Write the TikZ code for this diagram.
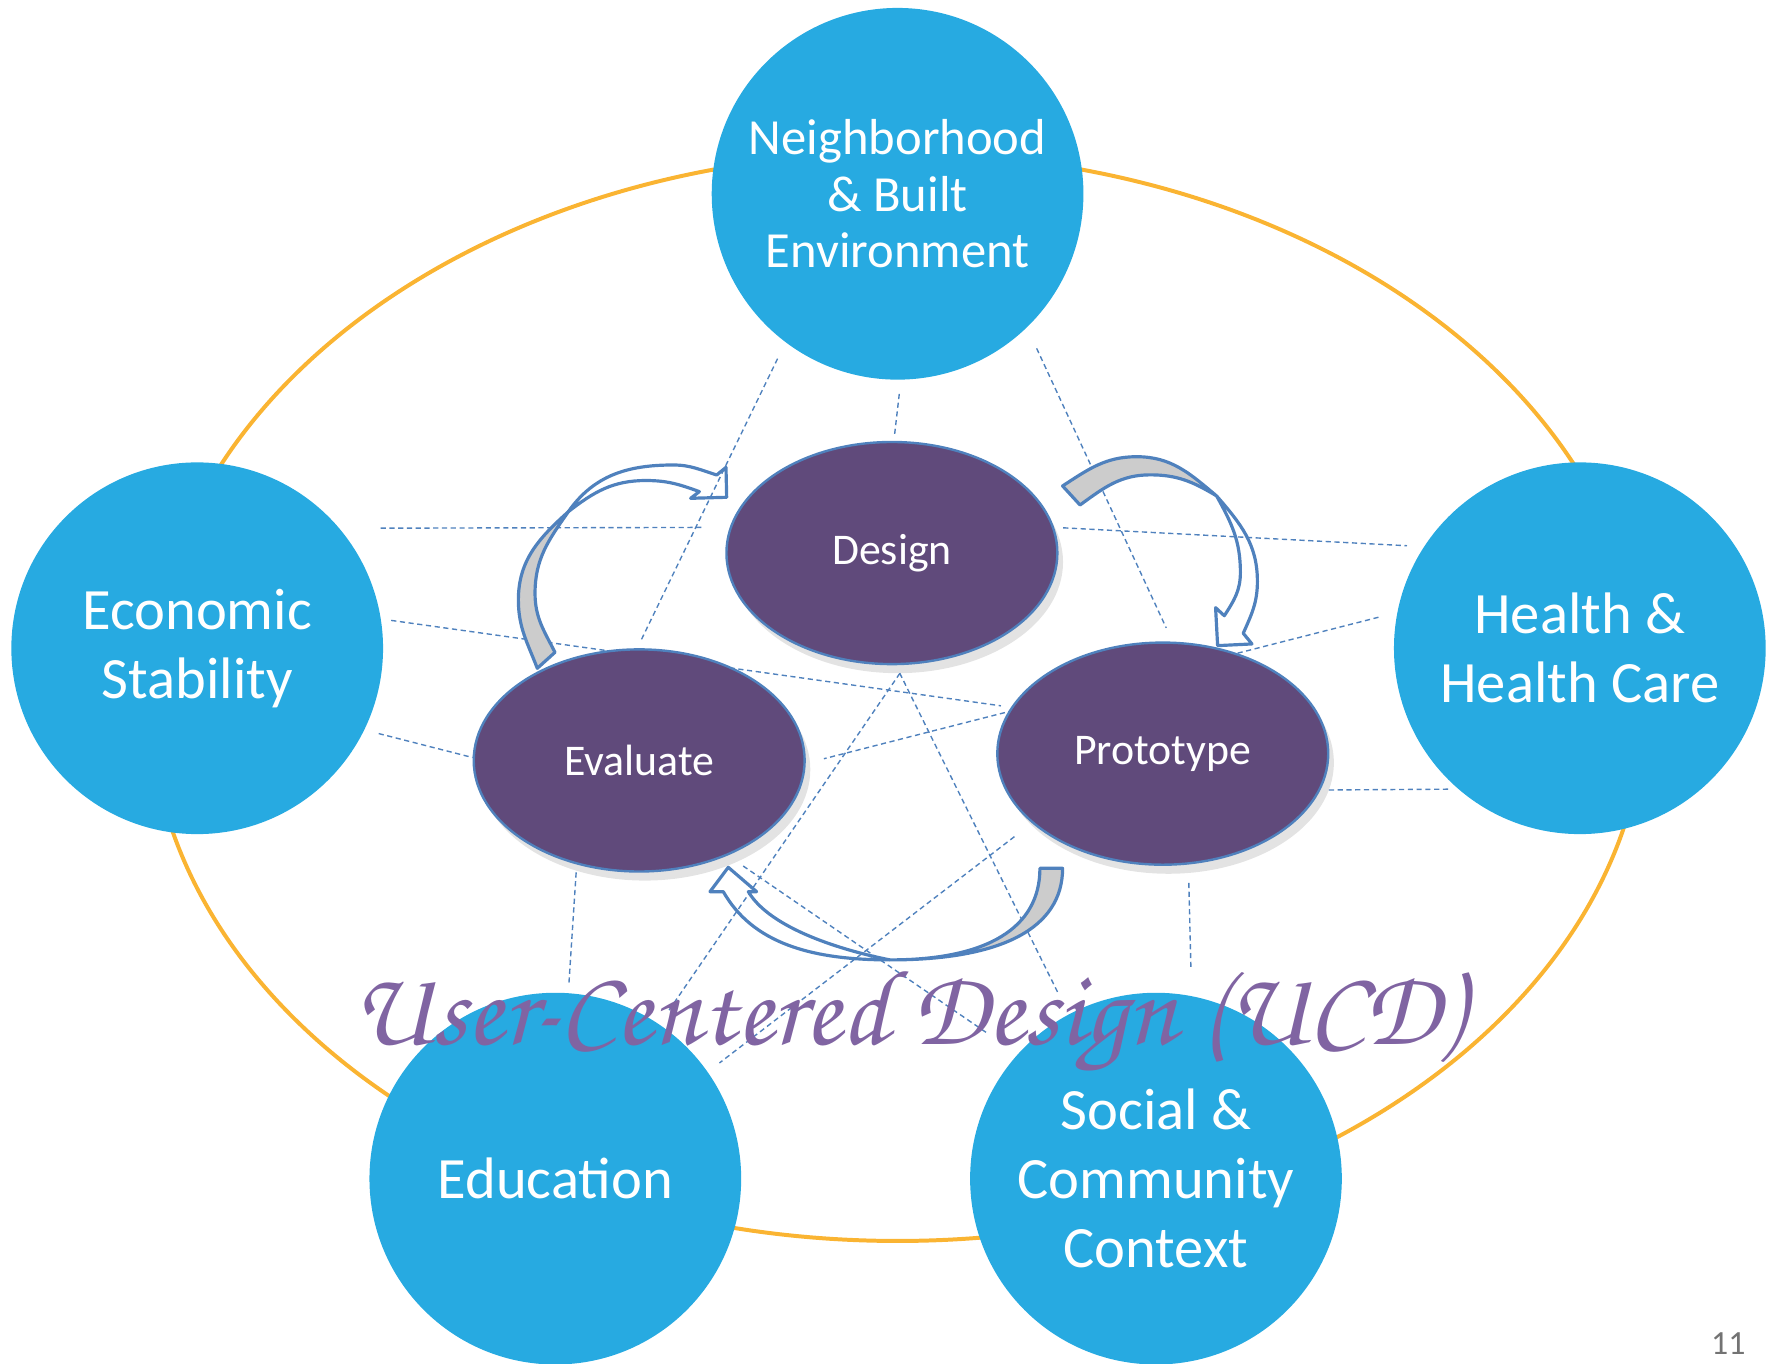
\documentclass[tikz,border=0pt]{standalone}
\usepackage{fontspec}
\setmainfont{Carlito}
\newfontfamily\ucdfont{texgyrechorus-mediumitalic.otf}
\usepackage{tikz}
\usetikzlibrary{shapes.geometric,shadows,backgrounds}

\definecolor{hubblue}{RGB}{39,170,225}
\definecolor{ringgold}{RGB}{250,180,50}
\definecolor{phaseplum}{RGB}{96,74,123}
\definecolor{edgeblue}{RGB}{79,129,189}
\definecolor{titleplum}{RGB}{128,100,162}
\definecolor{backgray}{RGB}{204,204,204}

\tikzset{
  hub/.style={circle, fill=hubblue, minimum size=3.28cm, inner sep=0pt,
    align=center, text=white, font=\fontsize{14.7}{17.3}\selectfont},
  phase/.style={ellipse, fill=phaseplum, draw=edgeblue, line width=0.6pt,
    minimum width=2.92cm, minimum height=1.96cm, inner sep=0pt, text=white,
    font=\fontsize{11}{13}\selectfont,
    drop shadow={shadow xshift=0.5mm, shadow yshift=-0.8mm, opacity=0.22}},
  link/.style={draw=edgeblue, line width=0.35pt, dash pattern=on 1.3pt off 0.9pt},
  turn/.style={draw=edgeblue, line width=0.8pt, line join=round},
  backface/.style={turn, fill=backgray}
}

\begin{document}
\begin{tikzpicture}
  \useasboundingbox (0,0) rectangle (15.68,-12.027);

  % the five determinants
  \node[hub, font=\fontsize{12.7}{14.2}\selectfont] (neigh) at (7.92,-1.71) {Neighborhood\\ \& Built\\ Environment};
  \node[hub] (econ) at (1.74,-5.72) {Economic\\ Stability};
  \node[hub] (health) at (13.94,-5.72) {Health \&\\ Health Care};
  \node[hub] (edu) at (4.90,-10.40) {Education};
  \node[hub] (social) at (10.20,-10.40) {Social \&\\ Community\\ Context};

  % the design cycle
  \node[phase] (design) at (7.87,-4.88) {Design};
  \node[phase] (evaluate) at (5.64,-6.71) {Evaluate};
  \node[phase] (proto) at (10.26,-6.65) {Prototype};

  \begin{scope}[on background layer]
    \draw [ringgold, line width=1pt] (7.92,-6.15) ellipse [x radius=6.60, y radius=4.80];
    \foreach \a/\b/\s/\t in {neigh.233.7/evaluate.91.5/1.55/0.8, neigh.271.8/design.89.3/1.2/0.5,
        neigh.314.5/proto.85.6/1.97/1.33, econ.40.7/design.171.6/3.57/2.34,
        design.9.0/health.147.0/0.8/1.44, econ.9.9/proto.163.9/0.86/0.9,
        health.169.1/evaluate.359.6/1.65/1.65, econ.334.5/evaluate.179.1/1.25/0,
        proto.347.4/health.229.1/0.75/0.57, evaluate.239.1/edu.86.0/0.7/0.84,
        proto.283.4/social.79.8/1.62/2.26, design.277.6/edu.56.7/0.9/1.21,
        design.272.1/social.118.7/0.78/2.13, proto.208.0/edu.35.1/1.95/1.25,
        evaluate.313.6/social.138.5/1.64/3.2} {
      \draw [link, shorten <=\s mm, shorten >=\t mm] (\a) -- (\b);
    }
  \end{scope}

  % evaluate -> design
  \filldraw [backface] (4.741,-5.897) to[out=111,in=-90] (4.574,-5.294) to[out=90,in=222] (5.015,-4.515)
    to[out=-125,in=90] (4.721,-5.235) to[out=-90,in=117] (4.897,-5.756) -- cycle;
  \draw [turn] (5.015,-4.515) to[out=55,in=180] (5.941,-4.103) to[out=0,in=163] (6.324,-4.191)
    -- (6.406,-4.124) -- (6.412,-4.388) -- (6.094,-4.397) -- (6.171,-4.338)
    to[out=160,in=0] (5.700,-4.240) to[out=180,in=38] (5.015,-4.515);

  % design -> prototype
  \filldraw [backface] (9.376,-4.288) to[out=33,in=180] (10.030,-4.030) to[out=0,in=140] (10.735,-4.376)
    to[out=149,in=0] (10.150,-4.190) to[out=180,in=36] (9.530,-4.456) -- cycle;
  \draw [turn] (10.735,-4.376) to[out=-49,in=90] (11.095,-5.130) to[out=-90,in=66] (10.970,-5.588)
    -- (11.047,-5.682) -- (10.744,-5.697) -- (10.726,-5.362) -- (10.803,-5.433)
    to[out=57,in=-90] (10.945,-5.050) to[out=90,in=-61] (10.735,-4.376);

  % prototype -> evaluate
  \filldraw [backface] (9.376,-7.662) .. controls (9.376,-8.190) and (8.840,-8.470) .. (7.853,-8.470)
    .. controls (8.713,-8.470) and (9.176,-8.187) .. (9.176,-7.662) -- cycle;
  \draw [turn] (7.853,-8.470) .. controls (7.150,-8.470) and (6.640,-8.320) .. (6.382,-7.868)
    -- (6.265,-7.868) -- (6.426,-7.653) -- (6.676,-7.868) -- (6.603,-7.868)
    .. controls (6.800,-8.200) and (7.450,-8.390) .. (7.853,-8.470);

  \node[font=\ucdfont\fontsize{27}{30}\selectfont, text=titleplum, anchor=base] (ucd) at (8.01,-9.22) {User-Centered Design (UCD)};
  \node[font=\fontsize{8.5}{10}\selectfont, text=black!55, anchor=base] (pagenum) at (15.25,-11.95) {11};
\end{tikzpicture}
\end{document}
